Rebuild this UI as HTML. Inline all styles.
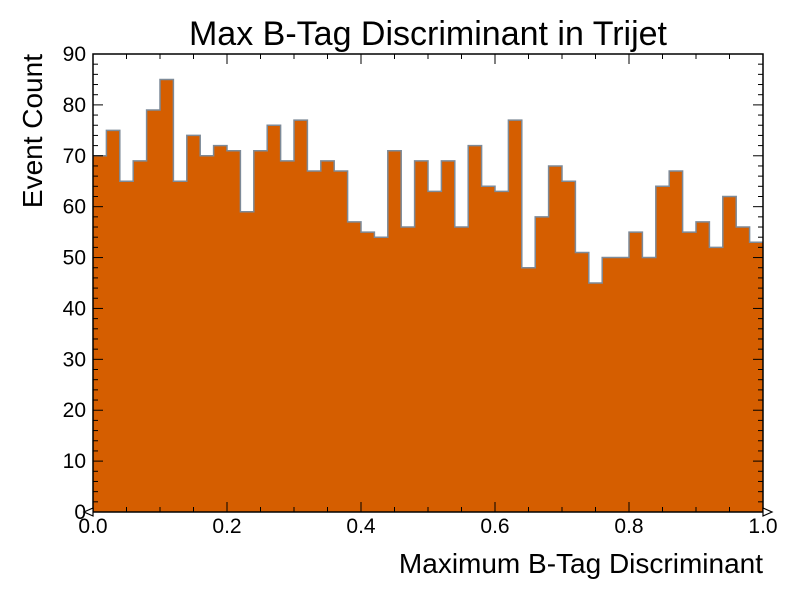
<!DOCTYPE html>
<html><head><meta charset="utf-8"><style>body{margin:0;background:#fff}svg{display:block}text{font-family:"Liberation Sans",sans-serif;fill:#000}</style></head>
<body>
<svg id="chart" width="800" height="600"></svg>
<script>
const binEdgesStart = 0;
const binEdgesEnd = 1;
const counts = [70,75,65,69,79,85,65,74,70,72,71,59,71,76,69,77,67,69,67,57,55,54,71,56,69,63,69,56,72,64,63,77,48,58,68,65,51,45,50,50,55,50,64,67,55,57,52,62,56,53];
const xTicks = [0,0.2,0.4,0.6,0.8,1.0];
const xTickLabels = ["0.0","0.2","0.4","0.6","0.8","1.0"];
const yTicks = [0,10,20,30,40,50,60,70,80,90];

const L=93,R=763,T=54,B=512;
const X=v=>L+(v-binEdgesStart)/(binEdgesEnd-binEdgesStart)*(R-L);
const Y=v=>B-v/90*(B-T);
const svg=document.getElementById('chart');
const NS='http://www.w3.org/2000/svg';
function mk(tag,attrs,txt){const e=document.createElementNS(NS,tag);for(const k in attrs)e.setAttribute(k,attrs[k]);if(txt!==undefined)e.textContent=txt;svg.appendChild(e);return e;}

const n=counts.length,w=(binEdgesEnd-binEdgesStart)/n;
let d=`M${X(0)},${Y(0)}`;
counts.forEach((c,i)=>{d+=` L${X(i*w)},${Y(c)} L${X((i+1)*w)},${Y(c)}`;});
d+=` L${X(1)},${Y(0)} Z`;
const fill=mk('path',{d:d,fill:'#d55e00',stroke:'none'});


let s=`M${X(0)},${Y(counts[0])}`;
counts.forEach((c,i)=>{s+=` L${X(i*w)},${Y(c)} L${X((i+1)*w)},${Y(c)}`;});
const edge=mk('path',{d:s,fill:'none',stroke:'#7d8a98','stroke-width':1.5});



for(let v=0;v<=1.0001;v+=0.05){const x=X(v);const maj=Math.abs(v*5-Math.round(v*5))<1e-6;const len=maj?10:5;
 mk('line',{x1:x,y1:B,x2:x,y2:B-len,stroke:'#000','stroke-width':1});
 mk('line',{x1:x,y1:T,x2:x,y2:T+len,stroke:'#000','stroke-width':1});}
for(let v=0;v<=90;v+=2){const y=Y(v);const len=v%10==0?10:5;
 mk('line',{x1:L,y1:y,x2:L+len,y2:y,stroke:'#000','stroke-width':1});
 mk('line',{x1:R,y1:y,x2:R-len,y2:y,stroke:'#000','stroke-width':1});}
const frame=mk('rect',{x:L,y:T,width:R-L,height:B-T,fill:'none',stroke:'#000','stroke-width':1.5});


const la=mk('path',{d:`M${L},${B-4} L${L-9},${B} L${L},${B+4} Z`,stroke:'#000','stroke-width':1.2,fill:'#fff'});


const ra=mk('path',{d:`M${R},${B-4} L${R+9},${B} L${R},${B+4} Z`,stroke:'#000','stroke-width':1.2,fill:'#fff'});



xTicks.forEach((v,i)=>{const t=mk('text',{x:X(v),y:B+21,'text-anchor':'middle','font-size':21},xTickLabels[i]);
 
 });
yTicks.forEach(v=>{const t=mk('text',{x:L-7,y:Y(v)+7,'text-anchor':'end','font-size':21},String(v));
 
 });
</script>
<div style="position:absolute;left:0;top:0;width:800px;height:600px;pointer-events:none">
<svg width="800" height="600">
<text x="428" y="45" text-anchor="middle" font-size="34">Max B-Tag Discriminant in Trijet</text>
<text x="763" y="573" text-anchor="end" font-size="28">Maximum B-Tag Discriminant</text>
<text transform="translate(42,54) rotate(-90)" text-anchor="end" font-size="28">Event Count</text>
</svg></div>
</body></html>
